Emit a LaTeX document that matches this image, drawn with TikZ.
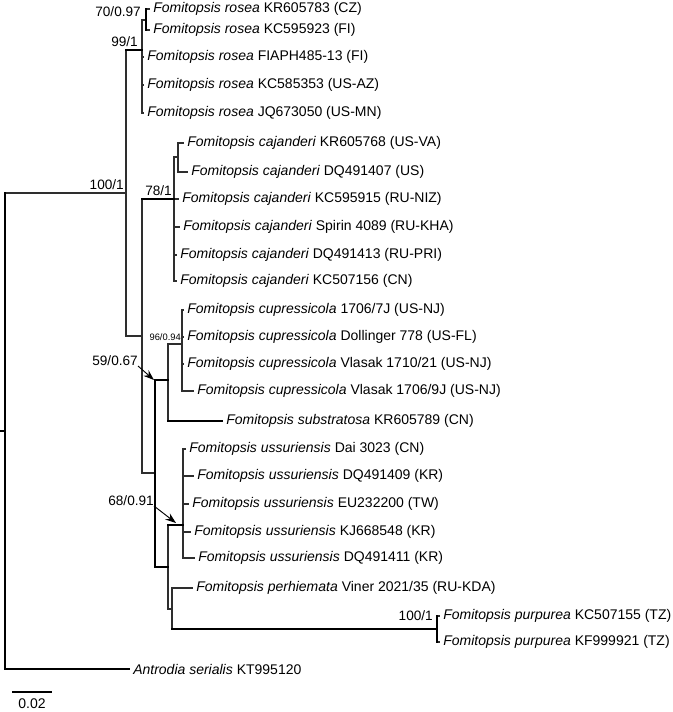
\documentclass[tikz,border=0pt]{standalone}
\usepackage{fontspec}
\setmainfont{Liberation Sans}
\usepackage{tikz}
\usetikzlibrary{arrows.meta,positioning,calc}
\definecolor{cBr}{HTML}{2E2E2E}
\tikzset{
  br/.style={draw=cBr, line width=1pt, line cap=rect},
  brb/.style={draw=black, line width=1.7pt, line cap=rect},
  tlbl/.style={inner sep=0pt, font=\fontsize{10.5}{12}\selectfont},
  slbl/.style={anchor=south east, inner sep=0pt, font=\fontsize{10.2}{12}\selectfont},
  slbls/.style={anchor=south east, inner sep=0pt, font=\fontsize{7}{8}\selectfont},
  sarr/.style={-{Stealth[length=2.8mm,width=2mm]}, line width=0.7pt, draw=black},
}
\newcommand{\fom}[2]{\textit{Fomitopsis #1} #2}

\begin{document}
\begin{tikzpicture}[x=0.75pt, y=-0.75pt]
\useasboundingbox (0,0) rectangle (672,712);
% ---- internal nodes
\coordinate (stub)    at (0,431);
\coordinate (nRoot)   at (5,431);
\coordinate (nIn)     at (126,193);
\coordinate (nRos)    at (142,50);
\coordinate (nRos2)   at (146,20);
\coordinate (nB)      at (142,336);
\coordinate (nCaj)    at (174,199);
\coordinate (nCaj2)   at (178,157);
\coordinate (nC)      at (155,473);
\coordinate (nCupSub) at (168,380);
\coordinate (nCup)    at (182,344);
\coordinate (nD)      at (168,567);
\coordinate (nUss)    at (183,525);
\coordinate (nE)      at (172,609);
\coordinate (nPur)    at (437,629);
% ---- tips
\coordinate (r1) at (149,9);   \coordinate (r2) at (149,30);
\coordinate (r3) at (143,57);  \coordinate (r4) at (143,85);
\coordinate (r5) at (143,113);
\coordinate (c1) at (183,143); \coordinate (c2) at (187,172);
\coordinate (c3) at (178,199); \coordinate (c4) at (179,227);
\coordinate (c5) at (176,255); \coordinate (c6) at (176,281);
\coordinate (p1) at (183,310); \coordinate (p2) at (183,337);
\coordinate (p3) at (183,364); \coordinate (p4) at (193,391);
\coordinate (tSub) at (222,421);
\coordinate (s1) at (185,449); \coordinate (s2) at (193,476);
\coordinate (s3) at (188,504); \coordinate (s4) at (190,532);
\coordinate (s5) at (194,558);
\coordinate (tPer) at (192,588);
\coordinate (q1) at (439,616); \coordinate (q2) at (439,642);
\coordinate (tAnt) at (129,669);
% ---- tip labels
\node[tlbl, right=3pt of r1] (lr1) {\fom{rosea}{KR605783 (CZ)}};
\node[tlbl, right=3pt of r2] (lr2) {\fom{rosea}{KC595923 (FI)}};
\node[tlbl, right=3pt of r3] (lr3) {\fom{rosea}{FIAPH485-13 (FI)}};
\node[tlbl, right=3pt of r4] (lr4) {\fom{rosea}{KC585353 (US-AZ)}};
\node[tlbl, right=3pt of r5] (lr5) {\fom{rosea}{JQ673050 (US-MN)}};
\node[tlbl, right=3pt of c1] (lc1) {\fom{cajanderi}{KR605768 (US-VA)}};
\node[tlbl, right=3pt of c2] (lc2) {\fom{cajanderi}{DQ491407 (US)}};
\node[tlbl, right=3pt of c3] (lc3) {\fom{cajanderi}{KC595915 (RU-NIZ)}};
\node[tlbl, right=3pt of c4] (lc4) {\fom{cajanderi}{Spirin 4089 (RU-KHA)}};
\node[tlbl, right=3pt of c5] (lc5) {\fom{cajanderi}{DQ491413 (RU-PRI)}};
\node[tlbl, right=3pt of c6] (lc6) {\fom{cajanderi}{KC507156 (CN)}};
\node[tlbl, right=3pt of p1] (lp1) {\fom{cupressicola}{1706/7J (US-NJ)}};
\node[tlbl, right=3pt of p2] (lp2) {\fom{cupressicola}{Dollinger 778 (US-FL)}};
\node[tlbl, right=3pt of p3] (lp3) {\fom{cupressicola}{Vlasak 1710/21 (US-NJ)}};
\node[tlbl, right=3pt of p4] (lp4) {\fom{cupressicola}{Vlasak 1706/9J (US-NJ)}};
\node[tlbl, right=3pt of tSub] (lSub) {\fom{substratosa}{KR605789 (CN)}};
\node[tlbl, right=3pt of s1] (ls1) {\fom{ussuriensis}{Dai 3023 (CN)}};
\node[tlbl, right=3pt of s2] (ls2) {\fom{ussuriensis}{DQ491409 (KR)}};
\node[tlbl, right=3pt of s3] (ls3) {\fom{ussuriensis}{EU232200 (TW)}};
\node[tlbl, right=3pt of s4] (ls4) {\fom{ussuriensis}{KJ668548 (KR)}};
\node[tlbl, right=3pt of s5] (ls5) {\fom{ussuriensis}{DQ491411 (KR)}};
\node[tlbl, right=3pt of tPer] (lPer) {\fom{perhiemata}{Viner 2021/35 (RU-KDA)}};
\node[tlbl, right=3pt of q1] (lq1) {\fom{purpurea}{KC507155 (TZ)}};
\node[tlbl, right=3pt of q2] (lq2) {\fom{purpurea}{KF999921 (TZ)}};
\node[tlbl, right=3pt of tAnt] (lAnt) {\textit{Antrodia serialis} KT995120};
% ---- branches (vertical on the parent, then across to the child)
\foreach \p/\c in {nRoot/nIn, nIn/nRos, nIn/nB, nRos/nRos2, nRos/r3, nRos/r4, nRos/r5,
    nRos2/r1, nRos2/r2, nB/nCaj, nB/nC, nCaj/nCaj2, nCaj/c3, nCaj/c4, nCaj/c5, nCaj/c6,
    nCaj2/c1, nCaj2/c2, nC/nCupSub, nC/nD, nCupSub/nCup, nCupSub/tSub,
    nCup/p1, nCup/p2, nCup/p3, nCup/p4, nD/nUss, nD/nE,
    nUss/s1, nUss/s2, nUss/s3, nUss/s4, nUss/s5, nE/tPer, nE/nPur, nPur/q1, nPur/q2}
  \draw[br] (\p) |- (\c);
% heavier branches
\draw[brb] (nRoot |- nIn) -- (nRoot |- tAnt) -- (tAnt);
\draw[brb] (stub) -- (nRoot);
\foreach \p/\c in {nIn/nRos, nB/nCaj, nC/nCupSub, nCupSub/tSub, nC/nD, nD/nUss, nE/nPur}
  \draw[brb] (\p |- \c) -- (\c);
\draw[brb] (nC |- nCupSub) -- (nC |- nD);
\draw[brb] (nRos2 |- r1) -- (nRos2 |- r2);
\draw[brb] (nPur |- q1) -- (nPur |- q2);
% ---- support values
\node[slbl] (s70)  at ($(nRos2)+(-5,-3)$) {70/0.97};
\node[slbl] (s99)  at ($(nRos)+(-4,-3)$) {99/1};
\node[slbl] (s100) at ($(nIn)+(-2,-3)$) {100/1};
\node[slbl] (s78)  at ($(nCaj)+(-2,-3)$) {78/1};
\node[slbls] (s96) at ($(nCup)+(-1,-3)$) {96/0.94};
\node[slbl] (s59)  at (138,366) {59/0.67};
\node[slbl] (s68)  at (154,506) {68/0.91};
\node[slbl] (sPur) at ($(nPur)+(-4,-8)$) {100/1};
\coordinate (a59) at (154,380);
\coordinate (a68) at (176,523);
\draw[sarr] (s59.south east) -- (a59);
\draw[sarr] (s68.south east) -- (a68);
% ---- scale bar
\coordinate (sb1) at (12,692);
\coordinate (sb2) at (52,692);
\draw[brb, line cap=butt] (sb1) -- (sb2);
\node[tlbl, below=5pt of $(sb1)!0.5!(sb2)$] (sbl) {0.02};
\end{tikzpicture}
\end{document}
